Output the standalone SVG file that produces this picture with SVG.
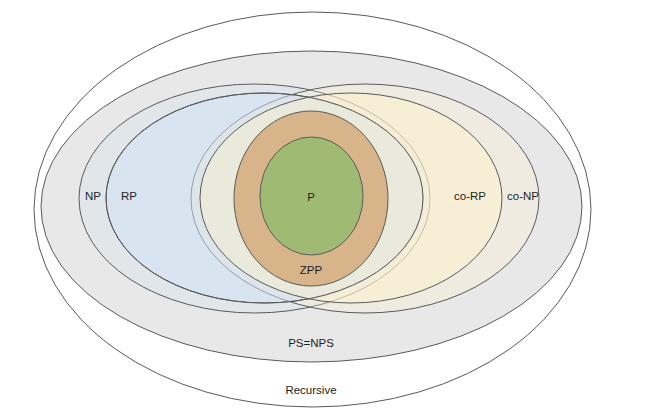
<svg xmlns="http://www.w3.org/2000/svg" width="668" height="415" viewBox="0 0 668 415">
<style>
.s{stroke:#5a5a5a;stroke-width:1}
.t{font-family:"Liberation Sans",Arial,sans-serif;font-size:11.5px;fill:#1e1e1e;text-anchor:middle}
</style>
<defs>
<clipPath id="rpclip"><ellipse cx="264.5" cy="198" rx="158.5" ry="105"/></clipPath>
</defs>
<rect width="668" height="415" fill="#ffffff"/>
<g id="recursive">
<ellipse cx="312.5" cy="209.5" rx="278.5" ry="197.5" fill="#ffffff" class="s"/>
<text class="t" x="311" y="394">Recursive</text>
</g>
<g id="ps">
<ellipse cx="311.5" cy="206.5" rx="270.5" ry="155.5" fill="#e8e8e8" class="s"/>
<text class="t" x="311" y="347">PS=NPS</text>
</g>
<g id="np">
<ellipse cx="254.5" cy="198.5" rx="175.5" ry="114.5" fill="#cfe2f3" fill-opacity="0.3" class="s"/>
<text class="t" x="93" y="200">NP</text>
</g>
<g id="conp">
<ellipse cx="365" cy="198.5" rx="174" ry="114.5" fill="#fff2cc" fill-opacity="0.3" class="s"/>
<text class="t" x="523" y="200">co-NP</text>
</g>
<g id="rp">
<ellipse cx="264.5" cy="198" rx="158.5" ry="105" fill="#cfe2f3" fill-opacity="0.5" class="s"/>
<text class="t" x="129" y="200">RP</text>
</g>
<g id="corp">
<ellipse cx="351" cy="198" rx="151" ry="105" fill="#fff2cc" fill-opacity="0.5"/>
<ellipse cx="351" cy="198" rx="151" ry="105" fill="#e9eadb" clip-path="url(#rpclip)"/>
<ellipse cx="351" cy="198" rx="151" ry="105" fill="none" class="s"/>
<ellipse cx="264.5" cy="198" rx="158.5" ry="105" fill="none" class="s"/>
<text class="t" x="470" y="200">co-RP</text>
</g>
<g id="zpp">
<ellipse cx="311" cy="198.5" rx="77" ry="87.5" fill="#d8b48a" class="s"/>
<text class="t" x="311" y="274">ZPP</text>
</g>
<g id="p">
<ellipse cx="311.5" cy="196" rx="51.5" ry="59" fill="#9fbb73" class="s"/>
<text class="t" x="311" y="201">P</text>
</g>
<g id="connectors"/>
</svg>
